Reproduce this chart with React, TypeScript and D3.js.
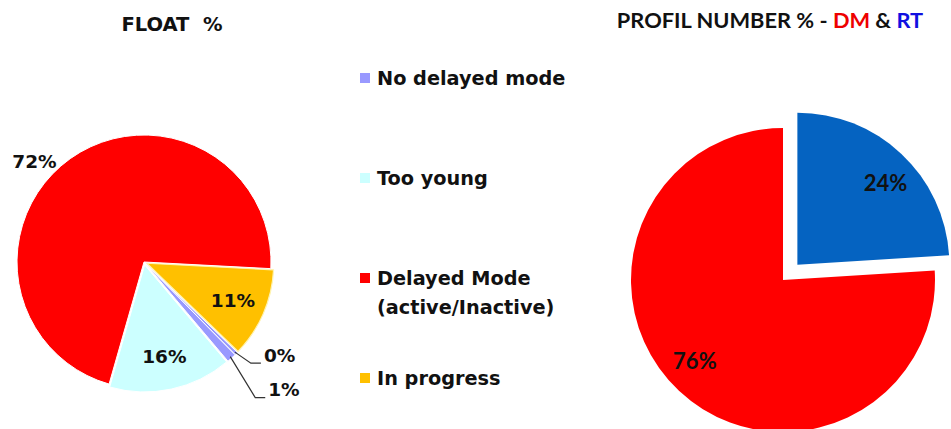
import React from 'react';
import * as d3 from 'd3';

// ---- data ----
const floatCategories = ["In progress", "Other", "No delayed mode", "Too young", "Delayed Mode (active/Inactive)"];
const floatValues = [11.4, 0.4, 1.2, 15.6, 71.4];
const floatLabels = ["11%", "0%", "1%", "16%", "72%"];
const floatColors = ["#ffc000", "#9999ff", "#9999ff", "#ccffff", "#ff0000"];

const legendLabels = [["No delayed mode"], ["Too young"], ["Delayed Mode", "(active/Inactive)"], ["In progress"]];
const legendColors = ["#9999ff", "#ccffff", "#ff0000", "#ffc000"];

const profilCategories = ["RT", "DM"];
const profilValues = [24, 76];
const profilLabels = ["24%", "76%"];
const profilColors = ["#0563c1", "#ff0000"];

// ---- layout ----
const W = 951, H = 429;
const deg = Math.PI / 180;
const leftPie = { cx: 144, cy: 262, r: 127, start: 93 * deg, explode: [3, 3, 3, 3, 0], labelR: 0.74 };
const rightPie = { cx: 783, cy: 280, r: 152, start: 0, explode: [21, 0], labelR: 0.79, labelShift: 4 * deg };
const leftFont = "'DejaVu Sans', Verdana, sans-serif";
const rightFont = "Lato, 'Open Sans', sans-serif";

function polar(cx: number, cy: number, a: number, r: number) {
  return [cx + Math.sin(a) * r, cy - Math.cos(a) * r];
}

export default function App() {
  const pieL = d3.pie<number>().sort(null).value(d => d)
    .startAngle(leftPie.start).endAngle(leftPie.start + 2 * Math.PI)(floatValues);
  const arcL = d3.arc<any>().innerRadius(0).outerRadius(leftPie.r);
  const pieR = d3.pie<number>().sort(null).value(d => d)
    .startAngle(rightPie.start).endAngle(rightPie.start + 2 * Math.PI)(profilValues);
  const arcR = d3.arc<any>().innerRadius(0).outerRadius(rightPie.r);

  const offs = (p: any, e: number, cx: number, cy: number) => {
    const mid = (p.startAngle + p.endAngle) / 2;
    return polar(cx, cy, mid, e);
  };

  const leftLabelPos = (i: number, p: any) => {
    const [ox, oy] = offs(p, leftPie.explode[i], leftPie.cx, leftPie.cy);
    const mid = (p.startAngle + p.endAngle) / 2;
    if (i === 4) return polar(leftPie.cx, leftPie.cy, 312.5 * deg, leftPie.r * 1.17);
    return polar(ox, oy, mid, leftPie.r * leftPie.labelR);
  };

  // leader lines for the tiny slices
  const leaders = [
    { i: 1, elbow: [16, 11], end: 10, text: 3 },
    { i: 2, elbow: [25, 41], end: 10, text: 3 },
  ];

  return (
    <div style={{ position: 'absolute', left: 0, top: 0 }}>
      <svg width={W} height={H} style={{ display: 'block', background: '#fff' }}>
        {/* Left title */}
        <text x={172} y={24} textAnchor="middle" dy="0.35em" fontFamily={leftFont} fontWeight="bold" fontSize={19.5} fill="#111" xmlSpace="preserve">FLOAT  %</text>
        {/* Left pie */}
        <g>
          {pieL.map((p, i) => {
            const [ox, oy] = offs(p, leftPie.explode[i], leftPie.cx, leftPie.cy);
            return (
              <path key={i} d={arcL(p) || ''} transform={`translate(${ox},${oy})`}
                fill={floatColors[i]} stroke={i === 0 ? '#fff3b0' : '#fff'} strokeWidth={i === 0 ? 1.2 : 1} strokeLinejoin="round" />
            );
          })}
          {pieL.map((p, i) => {
            if (i === 1 || i === 2) return null;
            const [x, y] = leftLabelPos(i, p);
            return (
              <text key={'l' + i} x={x} y={y} dy="0.35em" textAnchor="middle" fontFamily={leftFont}
                fontWeight="bold" fontSize={18.5} fill="#111">{floatLabels[i]}</text>
            );
          })}
          {leaders.map(L => {
            const p = pieL[L.i];
            const [ox, oy] = offs(p, leftPie.explode[L.i], leftPie.cx, leftPie.cy);
            const mid = (p.startAngle + p.endAngle) / 2;
            const [sx, sy] = polar(ox, oy, mid, leftPie.r - 2);
            const ex = sx + L.elbow[0], ey = sy + L.elbow[1];
            const fx = ex + L.end;
            return (
              <g key={'ld' + L.i}>
                <polyline points={`${sx},${sy} ${ex},${ey} ${fx},${ey}`} fill="none" stroke="#333" strokeWidth={1.2} />
                <text x={fx + L.text} y={ey - 8} dy="0.35em" fontFamily={leftFont} fontWeight="bold" fontSize={18.5} fill="#111">{floatLabels[L.i]}</text>
              </g>
            );
          })}
        </g>
        {/* Legend */}
        <g>
          {legendLabels.map((lines, i) => {
            const y = 78 + i * 100;
            return (
              <g key={'lg' + i}>
                <rect x={360} y={y - 5} width={10} height={10} fill={legendColors[i]} />
                {lines.map((t, j) => (
                  <text key={j} x={377} y={y + j * 29} dy="0.35em" fontFamily={leftFont} fontWeight="bold"
                    fontSize={19.3} fill="#111">{t}</text>
                ))}
              </g>
            );
          })}
        </g>
        {/* Right title */}
        <text x={770} y={20} dy="0.35em" textAnchor="middle" fontFamily={rightFont} fontWeight="bold" fontSize={21.8} fill="#111">
          PROFIL NUMBER % - <tspan fill="#ee0000">{profilCategories[1]}</tspan> & <tspan fill="#1010e0">{profilCategories[0]}</tspan>
        </text>
        {/* Right pie */}
        <g>
          {pieR.map((p, i) => {
            const [ox, oy] = offs(p, rightPie.explode[i], rightPie.cx, rightPie.cy);
            return (
              <path key={i} d={arcR(p) || ''} transform={`translate(${ox},${oy})`} fill={profilColors[i]} />
            );
          })}
          {pieR.map((p, i) => {
            const [ox, oy] = offs(p, rightPie.explode[i], rightPie.cx, rightPie.cy);
            const mid = (p.startAngle + p.endAngle) / 2 + rightPie.labelShift;
            const [x, y] = polar(ox, oy, mid, rightPie.r * rightPie.labelR);
            return (
              <text key={'r' + i} x={x} y={y} dy="0.35em" textAnchor="middle" fontFamily={rightFont}
                fontWeight="bold" fontSize={22} fill="#111">{profilLabels[i]}</text>
            );
          })}
        </g>
      </svg>
    </div>
  );
}
